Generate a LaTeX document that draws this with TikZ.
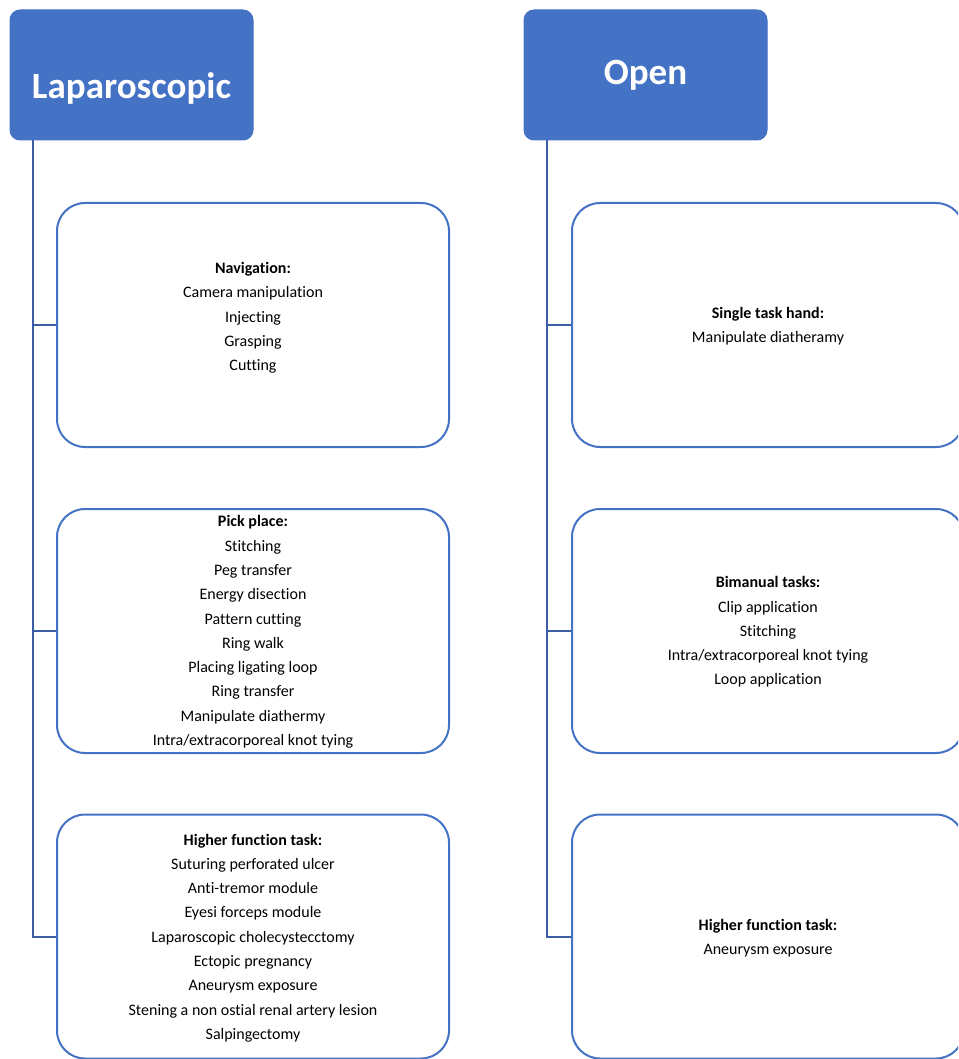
\documentclass[tikz,border=0pt]{standalone}
\usepackage{fontspec}
\setmainfont{Carlito}[Ligatures=NoCommon]
\definecolor{hdr}{HTML}{4472C4}
\definecolor{conncol}{HTML}{3B5DA6}
\begin{document}
\begin{tikzpicture}[x=1pt,y=-1pt,
  header/.style={rectangle,rounded corners=10pt,fill=hdr,draw=hdr,line width=1pt,
    minimum width=243pt,minimum height=130pt,inner sep=0pt,text=white,
    font=\fontsize{37}{44}\selectfont\bfseries},
  childbox/.style={rectangle,rounded corners=28pt,draw=hdr,line width=2pt,fill=white,
    minimum width=392pt,minimum height=244pt,inner sep=0pt},
  childtext/.style={align=center,inner sep=0pt,font=\fontsize{16}{24.3}\selectfont},
  conn/.style={draw=conncol,line width=2pt}]
\useasboundingbox (0,0) rectangle (958,1059);
\clip (0,0) rectangle (958,1059);
% headers
\node[header] (LH) at (131.5,75) {\raisebox{-13pt}[\height][\depth]{Laparoscopic}};
\node[header] (RH) at (645.5,75) {Open};
% left boxes
\node[childbox] (L1) at (253,325) {};
\node[childbox] (L2) at (253,631) {};
\node[childbox] (L3) at (253,936.5) {};
% right boxes
\node[childbox] (R1) at (768,325) {};
\node[childbox] (R2) at (768,631) {};
\node[childbox] (R3) at (768,936.5) {};
% connectors
\draw[conn] ([xshift=23pt]LH.south west) |- (L3.west);
\draw[conn] (L1.west) -- ++(-24,0);
\draw[conn] (L2.west) -- ++(-24,0);
\draw[conn] ([xshift=23pt]RH.south west) |- (R3.west);
\draw[conn] (R1.west) -- ++(-24,0);
\draw[conn] (R2.west) -- ++(-24,0);
% texts
\node[childtext] (L1t) at (253,318) {\textbf{Navigation:}\\Camera manipulation\\Injecting\\Grasping\\Cutting};
\node[childtext] (L2t) at (253,632) {\textbf{Pick place:}\\Stitching\\Peg transfer\\Energy disection\\Pattern cutting\\Ring walk\\Placing ligating loop\\Ring transfer\\Manipulate diathermy\\Intra/extracorporeal knot tying};
\node[childtext] (L3t) at (253,938) {\textbf{Higher function task:}\\Suturing perforated ulcer\\Anti-tremor module\\Eyesi forceps module\\Laparoscopic cholecystecctomy\\Ectopic pregnancy\\Aneurysm exposure\\Stening a non ostial renal artery lesion\\Salpingectomy};
\node[childtext] (R1t) at (768,326) {\textbf{Single task hand:}\\Manipulate diatheramy};
\node[childtext] (R2t) at (768,632) {\textbf{Bimanual tasks:}\\Clip application\\Stitching\\Intra/extracorporeal knot tying\\Loop application};
\node[childtext] (R3t) at (768,938) {\textbf{Higher function task:}\\Aneurysm exposure};
\end{tikzpicture}
\end{document}
